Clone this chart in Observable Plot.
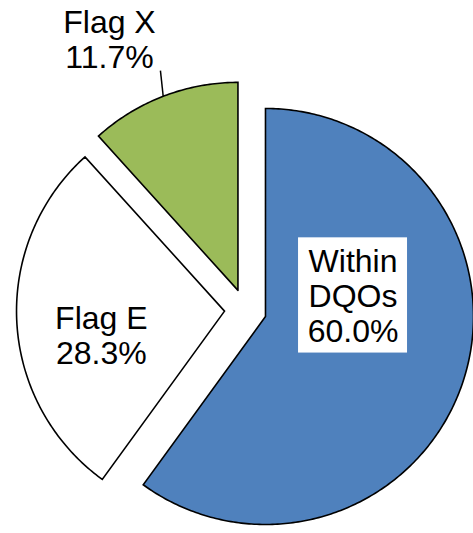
<!DOCTYPE html>
<html>
<head>
<meta charset="utf-8">
<script src="https://cdn.jsdelivr.net/npm/d3@7"></script>
<script src="https://cdn.jsdelivr.net/npm/@observablehq/plot@0.6"></script>
<style>
  html, body { margin: 0; padding: 0; background: #fff; }
  #chart { width: 473px; height: 533px; }
</style>
</head>
<body>
<div id="chart"></div>
<script>
// ---- data ----
const categories = ["Within DQOs", "Flag E", "Flag X"];
const percents = [60.0, 28.3, 11.7];
const labelLines = [["Within", "DQOs"], ["Flag E"], ["Flag X"]];
const fills = ["#4F81BD", "#FFFFFF", "#9BBB59"];

// ---- layout config (data units: pie radius = 1) ----
const explode = 0.101;
const labelPos = [[0.517, 0.070], [-0.693, -0.120], [-0.654, 1.303]];
const boxHalf = [0.262, 0.277];
const leaderEnd = [-0.409, 1.151];

const arcs = d3.pie().sort(null).value(d => d)(percents);

const slices = arcs.map((a, i) => {
  const mid = (a.startAngle + a.endAngle) / 2;
  const ox = explode * Math.sin(mid), oy = explode * Math.cos(mid);
  const n = Math.max(8, Math.round((a.endAngle - a.startAngle) * 80));
  const pts = [{x: ox, y: oy}];
  for (let k = 0; k <= n; k++) {
    const t = a.startAngle + (a.endAngle - a.startAngle) * k / n;
    pts.push({x: ox + Math.sin(t), y: oy + Math.cos(t)});
  }
  pts.push({x: ox, y: oy});
  return {name: categories[i], fill: fills[i], pts, mid, ox, oy};
});

const labels = categories.map((c, i) => ({
  name: c,
  text: [...labelLines[i], percents[i].toFixed(1) + "%"].join("\n"),
  x: labelPos[i][0],
  y: labelPos[i][1]
}));

const green = slices[2];
const leader = [{
  x1: green.ox + Math.sin(green.mid), y1: green.oy + Math.cos(green.mid),
  x2: leaderEnd[0], y2: leaderEnd[1]
}];

const box = [{
  x1: labels[0].x - boxHalf[0], x2: labels[0].x + boxHalf[0],
  y1: labels[0].y - boxHalf[1], y2: labels[0].y + boxHalf[1]
}];

const marks = slices.map(s => Plot.line(s.pts, {
  x: "x", y: "y", fill: s.fill, stroke: "#000", strokeWidth: 1.6,
  strokeLinejoin: "miter", strokeMiterlimit: 10
}));

const chart = Plot.plot({
  width: 473,
  height: 533,
  margin: 0,
  style: {background: "#fff", fontFamily: "'Liberation Sans', Arial, sans-serif"},
  x: {domain: [-245 / 208, (473 - 245) / 208], axis: null},
  y: {domain: [(309.5 - 533) / 208, 309.5 / 208], axis: null},
  marks: [
    ...marks,
    Plot.rect(box, {x1: "x1", x2: "x2", y1: "y1", y2: "y2", fill: "#fff"}),
    Plot.link(leader, {x1: "x1", y1: "y1", x2: "x2", y2: "y2", stroke: "#000", strokeWidth: 1.5}),
    Plot.text(labels, {
      x: "x", y: "y", text: "text", fontSize: 32, lineHeight: 1.1,
      fill: "#000", textAnchor: "middle", lineAnchor: "middle"
    })
  ]
});
document.getElementById("chart").appendChild(chart);
</script>
</body>
</html>
